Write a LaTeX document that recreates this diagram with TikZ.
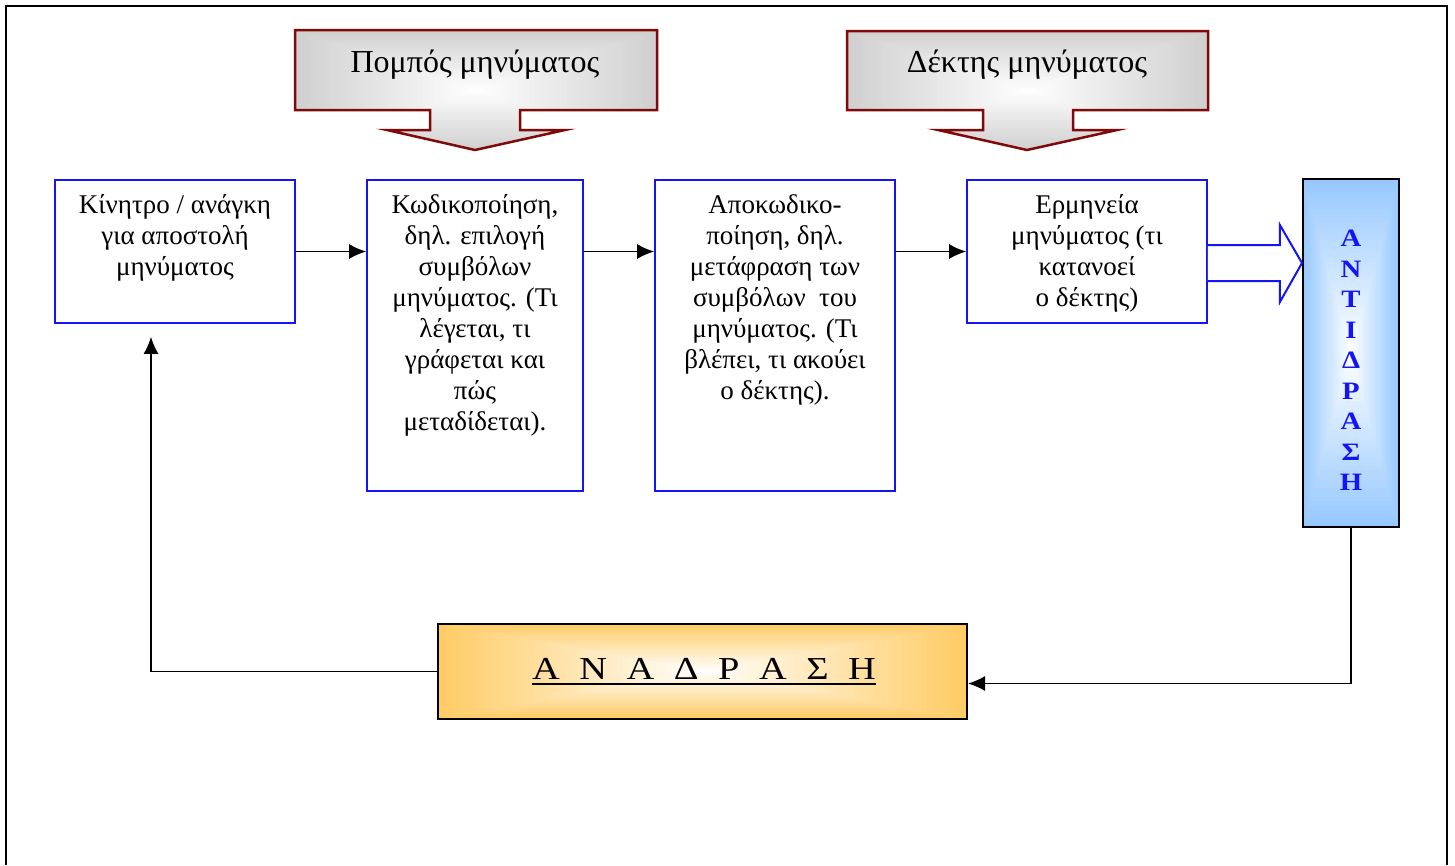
\documentclass[tikz,border=0pt]{standalone}
\usepackage{fontspec}
\setmainfont{Liberation Serif}
\newfontfamily\widefont[FakeStretch=1.2]{Liberation Serif}
\newfontfamily\widebold[FakeStretch=1.15,FakeBold=0]{Liberation Serif Bold}
\usetikzlibrary{arrows.meta,calc}

\definecolor{boxblue}{RGB}{20,20,245}
\definecolor{calloutred}{RGB}{128,10,10}
\definecolor{calloutgray}{RGB}{208,208,208}
\definecolor{skyfill}{RGB}{150,200,255}
\definecolor{goldfill}{RGB}{255,204,102}

% rectangular gradient: colour #5 at the edges fading to white at the centre
\newcommand\centergrad[5]{%
  \foreach \k in {0,...,39}{%
    \pgfmathsetmacro\mix{100-2.5*\k}%
    \pgfmathsetmacro\dx{(#3-#1)/80*\k}%
    \pgfmathsetmacro\dy{(#4-#2)/80*\k}%
    \fill[#5!\mix!white] ({#1+\dx},{#2+\dy}) rectangle ({#3-\dx},{#4-\dy});
  }}

\tikzset{
  msgbox/.style={draw=boxblue, line width=1.8pt, inner sep=0pt, rectangle},
  boxtext/.style={align=center, inner sep=0pt, anchor=north,
    font=\fontsize{27}{31}\selectfont},
  link/.style={line width=1.4pt, -{Latex[length=17pt,width=15pt]}},
  callout/.style={draw=calloutred, line width=2.5pt, line join=miter},
  calltext/.style={anchor=base, inner sep=0pt, font=\fontsize{32}{38}\selectfont},
  darkbox/.style={draw=black, line width=2pt, inner sep=0pt, rectangle},
}

\begin{document}
\begin{tikzpicture}[x=1pt,y=-1pt]
\useasboundingbox (0,0) rectangle (1455,865);
\fill[white] (0,0) rectangle (1455,865);

% page frame
\draw[line width=2.5pt] (6,865) -- (6,6) -- (1447,6) -- (1447,865);

% sender callout
\begin{scope}
  \clip (295,30) -- (657,30) -- (657,110) -- (520,110) -- (520,130) -- (565,130)
    -- (475,150) -- (387,130) -- (430,130) -- (430,110) -- (295,110) -- cycle;
  \centergrad{295}{30}{657}{150}{calloutgray}
\end{scope}
\draw[callout] (295,30) -- (657,30) -- (657,110) -- (520,110) -- (520,130) -- (565,130)
    -- (475,150) -- (387,130) -- (430,130) -- (430,110) -- (295,110) -- cycle;
\node[calltext] (sender) at (475,72) {Πομπός μηνύματος};

% receiver callout
\begin{scope}
  \clip (847,31) -- (1208,31) -- (1208,110) -- (1073,110) -- (1073,130) -- (1117,130)
    -- (1027,150) -- (938,130) -- (983,130) -- (983,110) -- (847,110) -- cycle;
  \centergrad{847}{31}{1208}{150}{calloutgray}
\end{scope}
\draw[callout] (847,31) -- (1208,31) -- (1208,110) -- (1073,110) -- (1073,130) -- (1117,130)
    -- (1027,150) -- (938,130) -- (983,130) -- (983,110) -- (847,110) -- cycle;
\node[calltext] (receiver) at (1027,72) {Δέκτης μηνύματος};

% process boxes
\node[msgbox, minimum width=240pt, minimum height=143pt] (b1) at (175,251.5) {};
\node[msgbox, minimum width=216pt, minimum height=311pt] (b2) at (475,335.5) {};
\node[msgbox, minimum width=240pt, minimum height=311pt] (b3) at (775,335.5) {};
\node[msgbox, minimum width=240pt, minimum height=143pt] (b4) at (1087,251.5) {};

\node[boxtext] (t1) at ($(b1.north)+(0,12)$)
  {\strut Κίνητρο / ανάγκη\\για αποστολή\\μηνύματος};
\node[boxtext] (t2) at ($(b2.north)+(0,12)$)
  {\strut Κωδικοποίηση,\\δηλ. επιλογή\\συμβόλων\\μηνύματος. (Τι\\λέγεται, τι\\γράφεται και\\πώς\\μεταδίδεται).};
\node[boxtext] (t3) at ($(b3.north)+(0,12)$)
  {\strut Αποκωδικο-\\ποίηση, δηλ.\\μετάφραση των\\συμβόλων\ \ του\\μηνύματος. (Τι\\βλέπει, τι ακούει\\ο δέκτης).};
\node[boxtext] (t4) at ($(b4.north)+(0,12)$)
  {\strut Ερμηνεία\\μηνύματος (τι\\κατανοεί\\ο δέκτης)};

% reaction bar
\centergrad{1303}{179}{1399}{527}{skyfill}
\node[darkbox, minimum width=96pt, minimum height=348pt] (ant) at (1351,353) {};
\node[align=center, inner sep=0pt, anchor=north, text=boxblue,
  font=\widebold\fontsize{25}{30.5}\selectfont] (antx) at ($(ant.north)+(0,52)$)
  {Α\\Ν\\Τ\\Ι\\Δ\\Ρ\\Α\\Σ\\Η};

% feedback bar
\centergrad{438}{624}{967}{719}{goldfill}
\node[darkbox, minimum width=529pt, minimum height=95pt] (an) at (702.5,671.5) {};
\node[anchor=base, inner sep=0pt, font=\widefont\fontsize{32}{40}\selectfont] (anx) at (704,679)
  {\hbox to 344pt{Α\hfil Ν\hfil Α\hfil Δ\hfil Ρ\hfil Α\hfil Σ\hfil Η}};
\draw[line width=1.6pt] ($(anx.base west)+(0,5)$) -- ($(anx.base east)+(0,5)$);

% block arrow towards the reaction bar
\draw[boxblue, line width=2pt, fill=white, line join=miter]
  ($(b4.east)+(0,-6.5)$) -- ++(72,0) -- ++(0,-20) -- ($(ant.west)+(0,-90)$)
  -- ($(b4.east)+(72,50.5)$) -- ($(b4.east)+(72,29.5)$) -- ($(b4.east)+(0,29.5)$);

% connectors
\draw[link] (b1.east) -- (b2.west |- b1.east);
\draw[link] (b2.east |- b1.east) -- (b3.west |- b1.east);
\draw[link] (b3.east |- b4.west) -- (b4.west);
\draw[link] (ant.south) |- ($(an.east)+(0,12)$);
\draw[link] (an.west) -| ($(b1.south)+(-24,13)$);
\end{tikzpicture}
\end{document}
